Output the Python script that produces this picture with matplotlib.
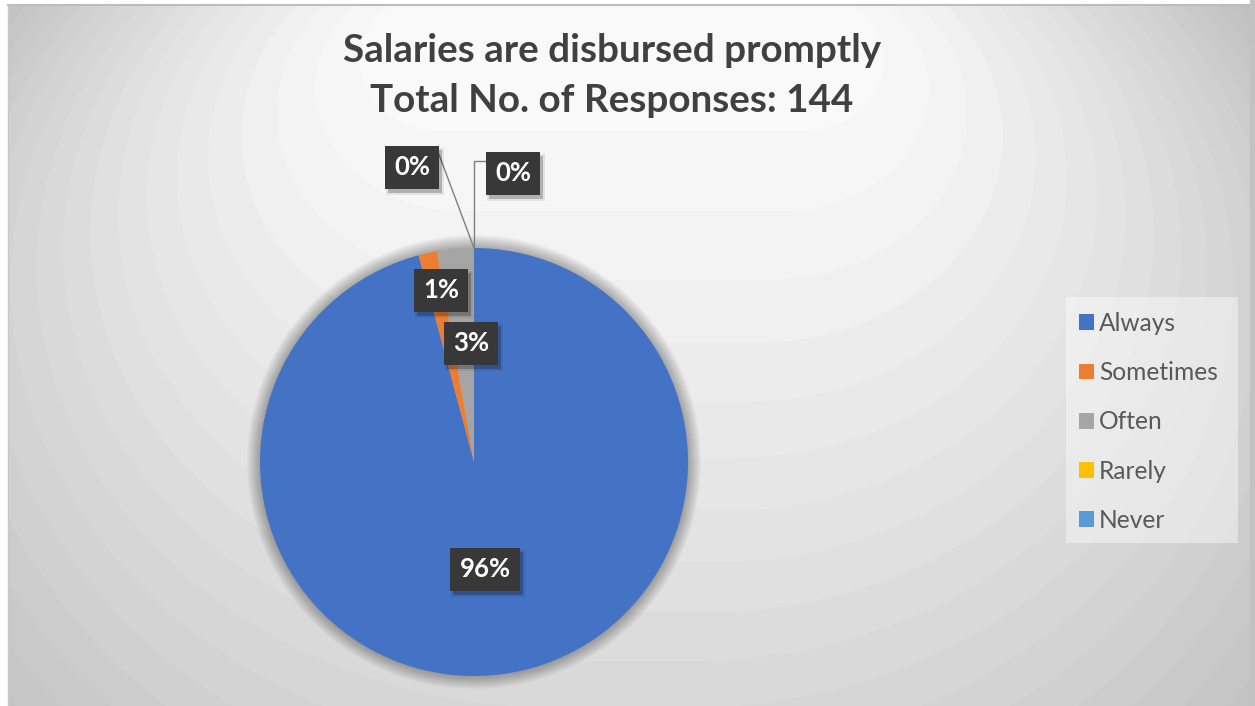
import numpy as np
import matplotlib
matplotlib.use('Agg')
import matplotlib.pyplot as plt
from matplotlib.patches import Rectangle, Circle

# ---------------- data ----------------
categories = ['Always', 'Sometimes', 'Often', 'Rarely', 'Never']
responses = [138, 2, 4, 0, 0]
slice_colors = ['#4472C4', '#ED7D31', '#A5A5A5', '#FFC000', '#5B9BD5']
title_line1 = 'Salaries are disbursed promptly'
total = sum(responses)
title_line2 = f'Total No. of Responses: {total}'

# ---------------- layout ----------------
W, H = 1255, 706
PCX, PCY, R = 474, 462, 214
label_pos = {'Always': (485, 569), 'Sometimes': (441, 290), 'Often': (471, 343),
             'Rarely': (412, 167), 'Never': (513, 173)}

fig = plt.figure(figsize=(W / 100, H / 100), dpi=100)
fig.patch.set_facecolor('white')
ax = fig.add_axes([0, 0, 1, 1])
renderer = fig.canvas.get_renderer()

def fit_size(text, target_w, **kw):
    t = fig.text(0, 0, text, fontsize=20, **kw)
    w = t.get_window_extent(renderer).width
    t.remove()
    return 20 * target_w / w

# ---------------- background gradient ----------------
X0, X1, Y0, Y1 = 8, 1250, 5, 706
yy, xx = np.mgrid[Y0:Y1, X0:X1].astype(float) + 0.5
cx, cy0, cy1, w0, A1, B1 = 622.0, 20.0, 380.0, 200.0, 760.0, 640.0

def g(t):
    cy = cy0 + t * (cy1 - cy0)
    w = w0 * (1 - np.clip(t, 0, 1))
    dx = np.maximum(np.abs(xx - cx) - w, 0)
    return (dx / (A1 * t)) ** 2 + ((yy - cy) / (B1 * t)) ** 2 - 1

lo = np.full(xx.shape, 1e-3)
hi = np.full(xx.shape, 2.0)
for _ in range(30):
    mid = 0.5 * (lo + hi)
    out = g(mid) > 0
    lo = np.where(out, mid, lo)
    hi = np.where(out, hi, mid)
tt = np.clip(0.5 * (lo + hi), 0, 1.1)
val = 251 - 58 * tt ** 1.35
val = np.round(val / 3.2) * 3.2
img = np.clip(val / 255.0, 0, 1)
ax.imshow(np.dstack([img, img, img]), extent=(X0, X1, Y1, Y0), zorder=0,
          interpolation='bilinear', aspect='auto')
ax.add_patch(Rectangle((X1, 0), W - X1, H, fc='#c2c2c2', ec='none', zorder=0.5))
ax.plot([X0, X1], [Y0, Y0], color='#bdbdbd', lw=1.5, zorder=0.6)
ax.plot([X0, X0], [Y0, H], color='#c8c8c8', lw=1.0, zorder=0.6)

# ---------------- pie ----------------
for i in range(1, 14):
    ax.add_patch(Circle((PCX, PCY), R + i, fc='black', ec='none', alpha=0.022, zorder=1))

wedges, _ = ax.pie(responses, colors=slice_colors, startangle=-90, counterclock=True,
                   center=(PCX, PCY), radius=R, frame=True,
                   wedgeprops=dict(linewidth=0))
for wdg in wedges:
    wdg.set_zorder(2)

ax.set_xlim(0, W)
ax.set_ylim(H, 0)
ax.set_aspect('auto')
ax.axis('off')

# ---------------- data labels ----------------
lab_font = ['Lato', 'DejaVu Sans']
lab_fs = fit_size('96%', 51, family=lab_font, fontweight='bold')
for cat, val_, wdg in zip(categories, responses, wedges):
    pct = f'{round(val_ / total * 100):.0f}%'
    lx, ly = label_pos[cat]
    t = ax.text(lx, ly, pct, ha='center', va='center', fontsize=lab_fs,
                family=lab_font, fontweight='bold', color='white', zorder=6)
    tw = t.get_window_extent(renderer).width
    bw, bh = tw + 18, 43
    ax.add_patch(Rectangle((lx - bw / 2 + 3, ly - bh / 2 + 4), bw, bh, fc='black',
                           ec='none', alpha=0.22, zorder=4))
    ax.add_patch(Rectangle((lx - bw / 2 + 1, ly - bh / 2 + 2), bw + 4, bh + 4, fc='black',
                           ec='none', alpha=0.08, zorder=4))
    ax.add_patch(Rectangle((lx - bw / 2, ly - bh / 2), bw, bh, fc='#383838',
                           ec='none', zorder=5))
    if val_ == 0:
        ang = np.deg2rad(wdg.theta1)
        px, py = PCX + R * np.cos(ang), PCY + R * np.sin(ang)
        if lx < px:
            ax.plot([lx + bw / 2, px], [ly - bh / 2 + 9, py], color='#7f7f7f', lw=1, zorder=3)
        else:
            ax.plot([lx - bw / 2, px, px], [ly - bh / 2 + 9, ly - bh / 2 + 9, py],
                    color='#7f7f7f', lw=1, zorder=3)

# ---------------- title ----------------
title_font = ['Lato', 'DejaVu Sans']
tfs = fit_size(title_line1, 538, family=title_font, fontweight='bold')
ax.text(612, 50, title_line1, ha='center', va='center', fontsize=tfs,
        family=title_font, fontweight='bold', color='#404040', zorder=6)
ax.text(612, 100, title_line2, ha='center', va='center', fontsize=tfs,
        family=title_font, fontweight='bold', color='#404040', zorder=6)

# ---------------- legend ----------------
ax.add_patch(Rectangle((1066, 297), 172, 246, fc='white', ec='none', alpha=0.42, zorder=3))
leg_font = ['Lato', 'DejaVu Sans']
lfs = fit_size('Sometimes', 119, family=leg_font)
fs_px = lfs * 100 / 72
leg = ax.legend(wedges, categories, loc='upper left', bbox_to_anchor=(1079, 312),
                bbox_transform=ax.transData, frameon=False,
                prop=dict(family=leg_font, size=lfs),
                handlelength=15 / fs_px, handleheight=15 / fs_px,
                handletextpad=5 / fs_px,
                labelspacing=(49.3 - 1.2 * fs_px + 6.4) / fs_px,
                borderpad=0, borderaxespad=0)
for txt in leg.get_texts():
    txt.set_color('#595959')
leg.set_zorder(7)

fig.savefig('out.png', dpi=100, facecolor='white')
